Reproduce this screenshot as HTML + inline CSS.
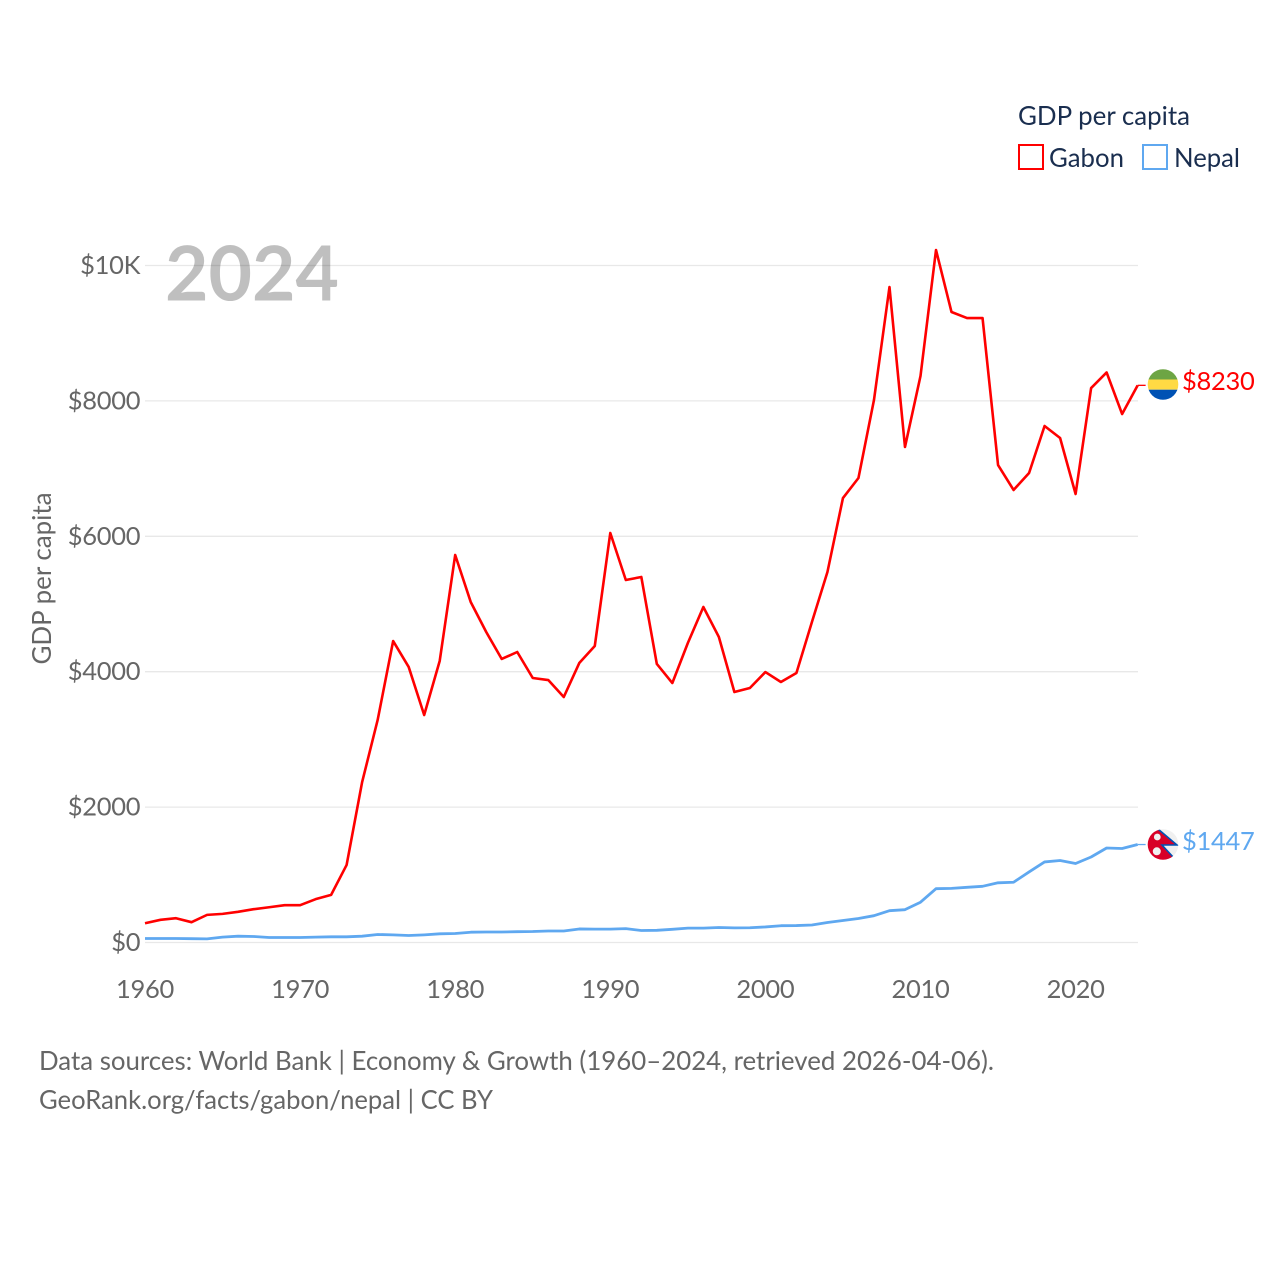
<!DOCTYPE html>
<html lang="en">
<head>
<meta charset="utf-8">
<title>GDP per capita: Gabon and Nepal</title>
<style>
html,body{margin:0;padding:0;background:#fff;}
svg{display:block;}
text{font-family:"Lato","Carlito","Liberation Sans",sans-serif;}
</style>
</head>
<body>
<svg id="chart" xmlns="http://www.w3.org/2000/svg" width="1280" height="1280" viewBox="0 0 1280 1280">
  <rect width="1280" height="1280" fill="#fff"/>
  <g id="grid"></g>
  <g id="yticks"></g>
  <g id="xticks"></g>
  <text x="165" y="300.5" font-size="76" font-weight="700" fill="#000" fill-opacity="0.25" textLength="174" lengthAdjust="spacingAndGlyphs">2024</text>
  <text transform="translate(51,578.5) rotate(-90)" text-anchor="middle" font-size="26" fill="#666" textLength="172" lengthAdjust="spacingAndGlyphs">GDP per capita</text>
  <g id="series"></g>

  <g>
    <text x="1018" y="125" font-size="26" fill="#1a2e4f" textLength="172" lengthAdjust="spacingAndGlyphs">GDP per capita</text>
    <g>
      <rect x="1019" y="145" width="24" height="24" fill="none" stroke="#ff0000" stroke-width="2"/>
      <text x="1049" y="167" font-size="26" fill="#1a2e4f" textLength="75" lengthAdjust="spacingAndGlyphs">Gabon</text>
    </g>
    <g>
      <rect x="1143" y="145" width="24" height="24" fill="none" stroke="#5fa8f0" stroke-width="2"/>
      <text x="1174" y="167" font-size="26" fill="#1a2e4f" textLength="66" lengthAdjust="spacingAndGlyphs">Nepal</text>
    </g>
  </g>

  <defs>
    <clipPath id="flag-clip-gabon"><circle cx="1163" cy="384.5" r="15.3"/></clipPath>
    <clipPath id="flag-clip-nepal"><circle cx="1163" cy="844.5" r="15.3"/></clipPath>
  </defs>
  <g clip-path="url(#flag-clip-gabon)">
    <rect x="1147" y="369" width="32" height="10.5" fill="#6da544"/>
    <rect x="1147" y="379.5" width="32" height="10.2" fill="#ffda44"/>
    <rect x="1147" y="389.7" width="32" height="11" fill="#0052b4"/>
  </g>
  <g clip-path="url(#flag-clip-nepal)">
    <rect x="1147" y="829" width="32" height="32" fill="#f0f0f0"/>
    <polygon points="1147,829 1158,829 1177,845 1162,845 1174,858 1174,861 1147,861" fill="#d80027"/>
    <polyline points="1158,829 1177,845 1162,845 1174,858" fill="none" stroke="#0052b4" stroke-width="1.6"/>
    <circle cx="1157.3" cy="837" r="3.4" fill="#f0f0f0"/>
    <circle cx="1156.8" cy="851.3" r="4" fill="#f0f0f0"/>
  </g>

  <g>
    <text x="39" y="1070" font-size="26" fill="#666" textLength="955" lengthAdjust="spacingAndGlyphs">Data sources: World Bank | Economy &amp; Growth (1960–2024, retrieved 2026-04-06).</text>
    <text x="39" y="1109" font-size="26" fill="#666" textLength="454" lengthAdjust="spacingAndGlyphs">GeoRank.org/facts/gabon/nepal | CC BY</text>
  </g>
</svg>
<script>
var firstYear = 1960;
var gabonValues = [285,335,359,300,408,423,453,492,521,551,551,640,704,1146,2370,3287,4453,4070,3360,4158,5724,5030,4586,4188,4291,3907,3877,3626,4128,4380,6049,5354,5399,4114,3833,4424,4956,4513,3700,3759,3995,3848,3981,4734,5473,6565,6861,8013,9682,7319,8368,10229,9313,9224,9224,7053,6684,6935,7629,7452,6625,8190,8420,7806,8230];
var nepalValues = [59,59,59,56,54,79,93,89,74,74,74,79,84,84,93,118,113,103,113,128,133,152,155,155,160,162,170,170,200,198,198,205,177,180,195,212,212,222,216,218,230,248,250,258,295,325,355,396,470,485,595,795,800,815,830,882,890,1042,1190,1211,1167,1263,1396,1388,1447];
var yTickValues = [0,2000,4000,6000,8000,10000];
var yTickLabels = ["$0","$2000","$4000","$6000","$8000","$10K"];
var xTickValues = [1960,1970,1980,1990,2000,2010,2020];
var gabonEndLabel = "$8230";
var nepalEndLabel = "$1447";

function xScale(year){ return 145 + (year - 1960) * 15.51; }
function yScale(v){ return 942.5 - v * 0.0677; }

var NS = "http://www.w3.org/2000/svg";
function make(tag, attrs, parent, txt){
  var el = document.createElementNS(NS, tag);
  for (var k in attrs) el.setAttribute(k, attrs[k]);
  if (txt !== undefined) el.textContent = txt;
  parent.appendChild(el);
  return el;
}
var grid = document.getElementById("grid");
var yticks = document.getElementById("yticks");
var xticks = document.getElementById("xticks");
var series = document.getElementById("series");

yTickValues.forEach(function(v, i){
  var y = yScale(v);
  var gl = make("line", {x1:145, x2:1138, y1:y, y2:y, stroke:"#e8e8e8", "stroke-width":1.3}, grid);
  
  
  var t = make("text", {x:140.2, y:y+8.5, "text-anchor":"end", "font-size":25.5, "letter-spacing":-0.3, fill:"#666"}, yticks, yTickLabels[i]);
  
  
});
xTickValues.forEach(function(yr){
  var t = make("text", {x:xScale(yr), y:998, "text-anchor":"middle", "font-size":25.5, "letter-spacing":-0.3, fill:"#666"}, xticks, String(yr));
  
  
});
function pathFor(vals){
  return vals.map(function(v,i){
    return (i ? "L" : "M") + xScale(firstYear + i).toFixed(2) + " " + yScale(v).toFixed(2);
  }).join(" ");
}
function drawSeries(vals, color, name, endLabel, width){
  var p = make("path", {d:pathFor(vals), fill:"none", stroke:color, "stroke-width":width, "stroke-linejoin":"round"}, series);
  
  
  var last = vals[vals.length-1];
  var lastX = xScale(firstYear + vals.length - 1);
  var lastY = yScale(last);
  var c = make("line", {x1:lastX, x2:lastX+8, y1:lastY, y2:lastY, stroke:color, "stroke-width":1.3}, series);
  
  
  var t = make("text", {x:1182, y:Math.round(lastY)+5, "font-size":25.5, "letter-spacing":-0.3, fill:color}, series, endLabel);
  
  
}
drawSeries(gabonValues, "#ff0000", "gabon", gabonEndLabel, 2.6);
drawSeries(nepalValues, "#5fa8f0", "nepal", nepalEndLabel, 2.8);
</script>
</body>
</html>
